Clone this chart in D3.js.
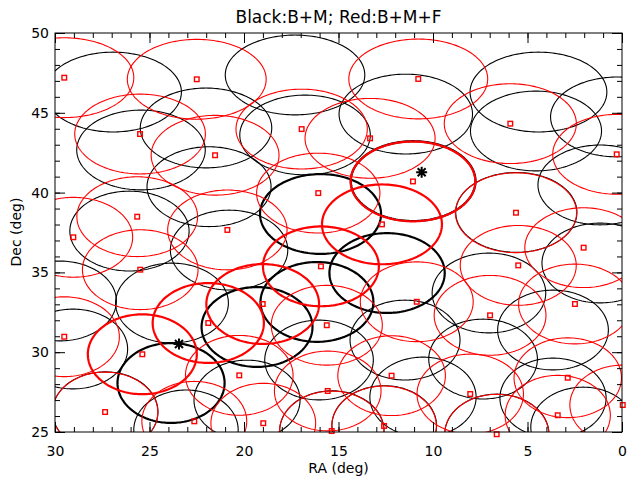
<!DOCTYPE html>
<html><head><meta charset="utf-8">
<script src="https://cdn.jsdelivr.net/npm/d3@7"></script>
<style>
html,body{margin:0;padding:0;background:#fff;}
svg text{font-family:"DejaVu Sans",sans-serif;fill:#000;}
</style></head><body>
<svg id="chart" width="628" height="480"></svg>
<script>
// Axis ticks
const raTicks = [30, 25, 20, 15, 10, 5, 0];
const decTicks = [50, 45, 40, 35, 30, 25];
const raMinor = d3.range(0, 31, 1);
const decMinor = d3.range(25, 51, 1);
const fieldRadius = 2.5; // deg

// B+M field centres [RA, Dec]
const bmFields = [
  [26.93, 46.30], [17.30, 47.37], [4.42, 46.30], [4.55, 43.86], [0.26, 44.74],
  [1.16, 40.48], [11.44, 44.92], [16.77, 43.61], [22.01, 44.05], [25.45, 42.67],
  [21.85, 40.37], [26.06, 37.59], [20.79, 36.40], [29.74, 33.21], [29.05, 30.20],
  [23.81, 33.08], [1.16, 35.59], [7.04, 33.71], [23.07, 25.13], [11.48, 30.76],
  [16.03, 29.51], [10.53, 27.19], [19.84, 27.00], [3.65, 31.39], [7.35, 29.57],
  [3.65, 27.13], [2.06, 25.31], [5.59, 38.76], [27.34, 26.27], [12.58, 25.40],
  [6.62, 24.87], [15.35, 25.08]
];
// B+M field centres along the highlighted track
const bmTrack = [
  [11.05, 40.72], [15.95, 38.66], [12.43, 34.96], [16.14, 33.15], [19.31, 31.58], [23.86, 28.07]
];
// B+M+F field centres
const bmfFields = [
  [29.51, 47.20], [22.50, 47.10], [10.78, 47.12], [25.50, 43.67], [21.53, 42.34],
  [16.95, 43.98], [13.33, 43.40], [5.91, 44.32], [0.28, 42.40], [25.65, 38.49],
  [29.03, 37.20], [25.49, 35.17], [20.88, 37.66], [16.07, 39.97], [5.61, 38.74],
  [2.03, 36.55], [5.49, 35.44], [29.51, 30.97], [27.35, 26.25], [20.25, 28.55],
  [22.63, 25.67], [15.62, 31.69], [10.86, 33.16], [15.57, 27.57], [12.19, 28.53],
  [18.98, 25.55], [15.36, 25.06], [12.59, 25.38], [6.98, 32.31], [2.49, 33.02],
  [8.03, 27.38], [2.87, 28.40], [3.40, 26.05], [-0.04, 26.69], [6.63, 24.86]
];
// B+M+F field centres along the highlighted track
const bmfTrack = [
  [11.06, 40.70], [12.70, 38.01], [15.93, 35.38], [19.01, 33.02], [21.89, 31.83], [25.38, 29.87]
];
// Marked positions
const stars = [[23.44, 30.51], [10.60, 41.27]];

const svg = d3.select("#chart");
const x = d3.scaleLinear().domain([30, 0]).range([55, 622]);
const y = d3.scaleLinear().domain([25, 50]).range([432, 33]);

svg.append("defs").append("clipPath").attr("id", "plotclip")
  .append("rect").attr("x", 55).attr("y", 33).attr("width", 567).attr("height", 399);

// A field of radius r on the sky drawn in RA/Dec coordinates
const theta = d3.range(0, 361, 2).map(d => d * Math.PI / 180);
function ring(c) {
  const a = fieldRadius / Math.cos(c[1] * Math.PI / 180);
  return theta.map(t => [c[0] + a * Math.cos(t), c[1] + fieldRadius * Math.sin(t)]);
}
const line = d3.line().x(d => x(d[0])).y(d => y(d[1]));

const plot = svg.append("g").attr("clip-path", "url(#plotclip)");
function drawRings(data, color, width) {
  plot.append("g").selectAll("path").data(data).join("path")
    .attr("d", d => line(ring(d)))
    .attr("fill", "none").attr("stroke", color).attr("stroke-width", width);
}
drawRings(bmFields, "#000", 1.1);
drawRings(bmTrack, "#000", 2.2);
drawRings(bmfFields, "#ff0000", 1.1);
drawRings(bmfTrack, "#ff0000", 2.2);

// centre markers of B+M+F fields
svg.append("g").selectAll("rect").data(bmfFields.concat(bmfTrack)).join("rect")
  .attr("x", d => x(d[0]) - 2.3).attr("y", d => y(d[1]) - 2.3)
  .attr("width", 4.6).attr("height", 4.6)
  .attr("fill", "none").attr("stroke", "#ff0000").attr("stroke-width", 1.4);

// asterisks
const starPath = "M-5.5,0L5.5,0M0,-5.5L0,5.5M-4,-4L4,4M-4,4L4,-4";
svg.append("g").selectAll("path").data(stars).join("path")
  .attr("transform", d => `translate(${x(d[0])},${y(d[1])})`)
  .attr("d", starPath).attr("stroke", "#000").attr("stroke-width", 2).attr("fill", "none");

// axes with inward ticks on all four sides
function styleAxis(g) {
  g.select(".domain").remove();
  g.selectAll("line").attr("stroke", "#000").attr("stroke-width", 1);
  g.selectAll("text").attr("font-size", 14).attr("fill", "#000");
}
const noLabel = () => "";
svg.append("g").attr("transform", "translate(0,432)")
  .call(d3.axisBottom(x).tickValues(raMinor).tickSize(-5).tickFormat(noLabel)).call(styleAxis);
svg.append("g").attr("transform", "translate(0,432)")
  .call(d3.axisBottom(x).tickValues(raTicks).tickSize(-10).tickPadding(14).tickFormat(d3.format("d"))).call(styleAxis);
svg.append("g").attr("transform", "translate(0,33)")
  .call(d3.axisTop(x).tickValues(raMinor).tickSize(-5).tickFormat(noLabel)).call(styleAxis);
svg.append("g").attr("transform", "translate(0,33)")
  .call(d3.axisTop(x).tickValues(raTicks).tickSize(-10).tickFormat(noLabel)).call(styleAxis);
svg.append("g").attr("transform", "translate(55,0)")
  .call(d3.axisLeft(y).tickValues(decMinor).tickSize(-5).tickFormat(noLabel)).call(styleAxis);
svg.append("g").attr("transform", "translate(55,0)")
  .call(d3.axisLeft(y).tickValues(decTicks).tickSize(-10).tickPadding(6).tickFormat(d3.format("d"))).call(styleAxis);
svg.append("g").attr("transform", "translate(622,0)")
  .call(d3.axisRight(y).tickValues(decMinor).tickSize(-5).tickFormat(noLabel)).call(styleAxis);
svg.append("g").attr("transform", "translate(622,0)")
  .call(d3.axisRight(y).tickValues(decTicks).tickSize(-10).tickFormat(noLabel)).call(styleAxis);

svg.append("rect").attr("x", 55).attr("y", 33).attr("width", 567).attr("height", 399)
  .attr("fill", "none").attr("stroke", "#000").attr("stroke-width", 1);

// titles
svg.append("text").attr("x", 338.5).attr("y", 23).attr("text-anchor", "middle")
  .attr("font-size", 17).text("Black:B+M; Red:B+M+F");
svg.append("text").attr("x", 338.5).attr("y", 473).attr("text-anchor", "middle")
  .attr("font-size", 14).text("RA (deg)");
svg.append("text").attr("transform", "translate(21,232) rotate(-90)").attr("text-anchor", "middle")
  .attr("font-size", 14).text("Dec (deg)");
</script>
</body></html>
